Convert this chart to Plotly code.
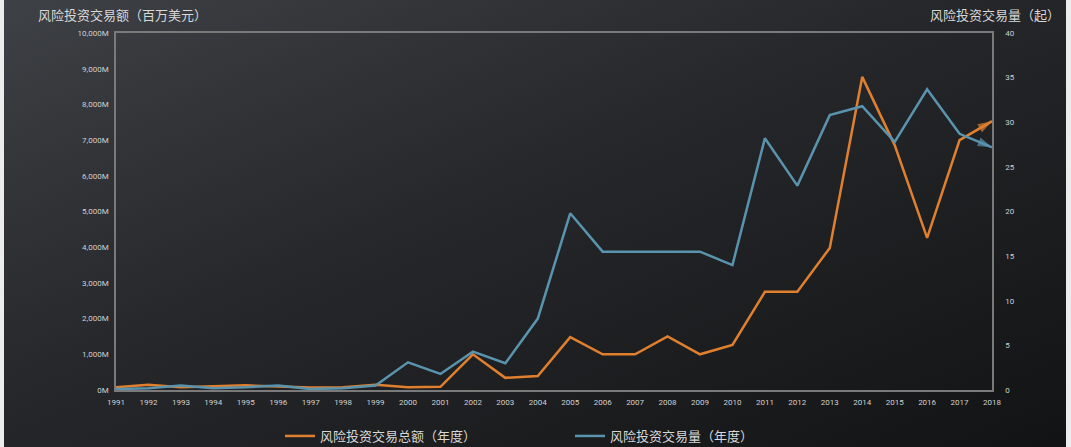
import base64
import plotly.graph_objects as go

years = list(range(1991, 2019))
amount_musd = [80, 150, 80, 100, 130, 100, 70, 80, 150, 80, 90, 1000, 340, 390,
               1480, 1000, 1000, 1500, 1000, 1260, 2750, 2750, 3980, 8770, 6860,
               4260, 7000, 7530]
deal_count = [0.1, 0.2, 0.5, 0.2, 0.3, 0.5, 0.1, 0.2, 0.5, 3.1, 1.8, 4.3, 3.0, 8.0,
              19.8, 15.5, 15.5, 15.5, 15.5, 14.0, 28.2, 22.9, 30.8, 31.8, 27.8,
              33.7, 28.7, 27.2]

name_amount = "风险投资交易总额（年度）"
name_count = "风险投资交易量（年度）"
title_left = "风险投资交易额（百万美元）"
title_right = "风险投资交易量（起）"

ORANGE = "#E0802F"
BLUE = "#5A93AE"
CJK = "Noto Sans CJK SC"
TICKFONT = dict(family="Roboto, Noto Sans", size=8, color="#d0d0d0")

n = len(years)
end_sizes = [0] * (n - 1) + [15]

fig = go.Figure()
fig.add_trace(go.Scatter(
    x=years, y=amount_musd, name=name_amount, mode="lines+markers",
    line=dict(color=ORANGE, width=2.5),
    marker=dict(symbol="arrow", angleref="previous", size=end_sizes, color=ORANGE,
                line=dict(width=0)),
    yaxis="y"))
fig.add_trace(go.Scatter(
    x=years, y=deal_count, name=name_count, mode="lines+markers",
    line=dict(color=BLUE, width=2.5),
    marker=dict(symbol="arrow", angleref="previous", size=end_sizes, color=BLUE,
                line=dict(width=0)),
    yaxis="y2"))

svg = """<svg xmlns='http://www.w3.org/2000/svg' width='1062' height='447' preserveAspectRatio='none'>
<defs><linearGradient id='g' x1='0' y1='0' x2='1' y2='1'>
<stop offset='0' stop-color='#3e4145'/>
<stop offset='0.45' stop-color='#25272a'/>
<stop offset='1' stop-color='#121314'/>
</linearGradient></defs>
<rect width='1062' height='447' fill='url(#g)'/></svg>"""
src = "data:image/svg+xml;base64," + base64.b64encode(svg.encode()).decode()

L, R, T, B = 116, 79, 33, 57
W, H = 1071, 447
pw, ph = W - L - R, H - T - B

fig.add_layout_image(dict(
    source=src, xref="paper", yref="paper",
    x=(4 - L) / pw, y=1 + T / ph, sizex=1062 / pw, sizey=H / ph,
    xanchor="left", yanchor="top", sizing="stretch", layer="below"))

axis_common = dict(showgrid=False, zeroline=False, showline=True,
                   linecolor="#7a7a7a", linewidth=1.5, ticks="",
                   tickfont=TICKFONT)

fig.update_layout(
    width=W, height=H,
    margin=dict(l=L, r=R, t=T, b=B, autoexpand=False),
    paper_bgcolor="#ececec",
    plot_bgcolor="rgba(0,0,0,0)",
    font=dict(family=CJK, color="#d8d8d8"),
    xaxis=dict(range=[1991, 2018], tickmode="linear", tick0=1991, dtick=1,
               mirror=True, ticklabelstandoff=4, automargin=False, **axis_common),
    yaxis=dict(range=[0, 10000], tickmode="linear", tick0=0, dtick=1000,
               tickformat=",d", ticksuffix="M", mirror=True,
               ticklabelstandoff=4, automargin=False, **axis_common),
    yaxis2=dict(range=[0, 40], tickmode="linear", tick0=0, dtick=5,
                overlaying="y", side="right", ticklabelstandoff=10,
                automargin=False, **axis_common),
    showlegend=True,
    legend=dict(orientation="h", x=(280 - L) / pw, xanchor="left",
                y=(390 - 436) / ph, yanchor="middle",
                font=dict(family=CJK, size=13, color="#d8d8d8"),
                entrywidth=245, entrywidthmode="pixels",
                itemwidth=30, bgcolor="rgba(0,0,0,0)"),
    annotations=[
        dict(text=title_left, xref="paper", yref="paper",
             x=(36 - L) / pw, y=1 + (T - 15) / ph, xanchor="left", yanchor="middle",
             showarrow=False, font=dict(family=CJK, size=13, color="#d8d8d8")),
        dict(text=title_right, xref="paper", yref="paper",
             x=(1062 - L) / pw, y=1 + (T - 15) / ph, xanchor="right", yanchor="middle",
             showarrow=False, font=dict(family=CJK, size=13, color="#d8d8d8")),
    ],
)

fig.write_html("out.html",
               config={"displayModeBar": False},
               post_script="document.body.style.margin='0';"
                           "document.body.style.overflow='hidden';")
